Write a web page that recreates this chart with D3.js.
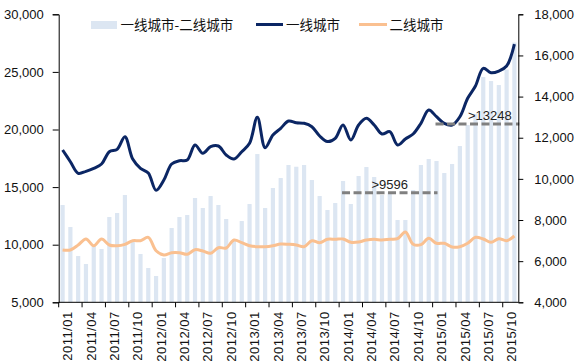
<!DOCTYPE html>
<html><head><meta charset="utf-8">
<script src="https://cdn.jsdelivr.net/npm/d3@7"></script>
<style>
html,body{margin:0;padding:0;background:#fff;}
svg{display:block;}
text{font-family:"Liberation Sans",Arial,sans-serif;}
.cjk{font-family:"Noto Sans CJK SC","Liberation Sans",sans-serif;}
</style></head>
<body>
<svg id="c" width="579" height="364"></svg>
<script>
const months = ["2011/01","2011/02","2011/03","2011/04","2011/05","2011/06","2011/07","2011/08","2011/09","2011/10","2011/11","2011/12",
"2012/01","2012/02","2012/03","2012/04","2012/05","2012/06","2012/07","2012/08","2012/09","2012/10","2012/11","2012/12",
"2013/01","2013/02","2013/03","2013/04","2013/05","2013/06","2013/07","2013/08","2013/09","2013/10","2013/11","2013/12",
"2014/01","2014/02","2014/03","2014/04","2014/05","2014/06","2014/07","2014/08","2014/09","2014/10","2014/11","2014/12",
"2015/01","2015/02","2015/03","2015/04","2015/05","2015/06","2015/07","2015/08","2015/09","2015/10","2015/11"];
// 一线城市-二线城市 (bars, right axis)
const diffValues = [8729,7660,6250,5861,6736,6590,8146,8340,9215,6979,6347,5667,5278,6153,7611,8146,8243,9069,8583,9166,8729,8048,7000,7951,8777,11207,8583,9555,10041,10673,10590,10673,9944,9166,8486,8826,9895,8777,10138,10576,10090,9215,9340,8000,8000,9458,10673,10964,10867,10284,10721,11596,12617,13151,14950,14755,14561,15314,16626];
// 一线城市 (left axis)
const tier1Values = [18220,17204,16197,16371,16631,17004,18072,18280,19374,17438,16631,16223,14722,15616,17004,17291,17352,18654,17933,18506,18567,17786,17438,18072,18801,21058,18419,19522,20103,20737,20589,20537,20242,19435,18957,19235,20390,19088,20390,20971,20390,19608,19808,18654,19174,19608,20537,21692,21110,20537,20390,21110,22707,23775,25311,24929,25077,25511,27420];
// 二线城市 (left axis)
const tier2Values = [9540,9540,9974,10494,9913,10494,9974,9913,10034,10347,10347,10642,9479,9106,9305,9305,9166,9566,9453,9253,9739,9713,10408,10173,9913,9826,9826,9913,10060,10034,9974,9826,10347,10173,10468,10468,10494,10208,10234,10408,10468,10408,10468,10520,11102,10034,10000,10555,10121,10121,9800,9826,10121,10642,10494,10208,10520,10347,10755];
const leftTicks = [5000,10000,15000,20000,25000,30000];
const rightTicks = [4000,6000,8000,10000,12000,14000,16000,18000];
const xTickLabels = ["2011/01","2011/04","2011/07","2011/10","2012/01","2012/04","2012/07","2012/10","2013/01","2013/04","2013/07","2013/10","2014/01","2014/04","2014/07","2014/10","2015/01","2015/04","2015/07","2015/10"];
const seriesNames = ["一线城市-二线城市","一线城市","二线城市"];
const annotations = [
  {from:"2014/01", to:"2015/01", value:9330, label:">9596"},
  {from:"2015/01", to:"2015/11", value:12670, label:">13248"}
];

const svg = d3.select("#c");
const L = 58.7, R = 518.3, T = 14.3, B = 302.3;
const x = d3.scaleBand().domain(months).range([L, R]).padding(0);
const yL = d3.scaleLinear().domain([5000,30000]).range([B, T]);
const yR = d3.scaleLinear().domain([4000,18000]).range([B, T]);
const bw = x.bandwidth();
const cx = m => x(m) + bw/2;

// bars
svg.append("g").selectAll("rect").data(months).join("rect")
  .attr("x", (m) => cx(m) - 2.1)
  .attr("width", 4.2)
  .attr("y", (m,i) => yR(diffValues[i]))
  .attr("height", (m,i) => B - yR(diffValues[i]))
  .attr("fill", "#dce6f2");

// lines
const lineL = d3.line().x((d,i) => cx(months[i])).y(d => yL(d)).curve(d3.curveCatmullRom.alpha(0.5));
svg.append("path").attr("d", lineL(tier2Values)).attr("fill","none")
  .attr("stroke","#fac090").attr("stroke-width",3).attr("stroke-linejoin","round");
svg.append("path").attr("d", lineL(tier1Values)).attr("fill","none")
  .attr("stroke","#0b2664").attr("stroke-width",3).attr("stroke-linejoin","round");

// annotations
annotations.forEach((a, k) => {
  const x1 = cx(a.from) - 1;
  const x2 = k === 1 ? R + 1 : cx(a.to) + 1;
  const yy = yR(a.value);
  svg.append("line").attr("x1", x1).attr("x2", x2).attr("y1", yy).attr("y2", yy)
    .attr("stroke", "#808080").attr("stroke-width", 3).attr("stroke-dasharray", "8,3.5");
  const tx = k === 1 ? 468 : (x1 + x2) / 2;
  svg.append("text").attr("x", tx).attr("y", yy - 4)
    .attr("text-anchor", k === 1 ? "start" : "middle")
    .attr("font-size", 13).attr("fill", "#222").text(a.label);
});

// axes
const fmt = d3.format(",");
const gL = svg.append("g").attr("transform", `translate(${L},0)`)
  .call(d3.axisLeft(yL).tickValues(leftTicks).tickFormat(fmt).tickSize(6).tickPadding(9));
const gR = svg.append("g").attr("transform", `translate(${R},0)`)
  .call(d3.axisRight(yR).tickValues(rightTicks).tickFormat(fmt).tickSize(5).tickPadding(11));
[gL, gR].forEach(g => {
  g.select(".domain").attr("stroke", "#000").attr("stroke-width", 1);
  g.selectAll(".tick line").attr("stroke", "#000");
  g.selectAll("text").attr("font-size", 13).attr("fill", "#111").attr("font-family", '"Liberation Sans",Arial,sans-serif');
});
// bottom axis
svg.append("line").attr("x1", L).attr("x2", R).attr("y1", B).attr("y2", B).attr("stroke", "#000");
const gx = svg.append("g");
xTickLabels.forEach(lab => {
  const xx = x(lab);
  gx.append("line").attr("x1", xx).attr("x2", xx).attr("y1", B).attr("y2", B + 5).attr("stroke", "#000");
  gx.append("text").attr("transform", `translate(${xx + 9},${B + 9}) rotate(-90)`)
    .attr("text-anchor", "end").attr("dy", "0.35em")
    .attr("font-size", 13).attr("letter-spacing", "0.5px").attr("fill", "#111").text(lab);
});

// legend
const lg = svg.append("g");
lg.append("rect").attr("x", 91).attr("y", 21).attr("width", 26).attr("height", 8).attr("fill", "#dce6f2");
lg.append("text").attr("class","cjk").attr("x", 120.5).attr("y", 25).attr("dy","0.36em").attr("font-size", 13.5).attr("fill","#111").text(seriesNames[0]);
lg.append("line").attr("x1", 256).attr("x2", 283).attr("y1", 24.5).attr("y2", 24.5).attr("stroke", "#0b2664").attr("stroke-width", 3);
lg.append("text").attr("class","cjk").attr("x", 286).attr("y", 25).attr("dy","0.36em").attr("font-size", 13.5).attr("fill","#111").text(seriesNames[1]);
lg.append("line").attr("x1", 359).attr("x2", 387).attr("y1", 24.5).attr("y2", 24.5).attr("stroke", "#fac090").attr("stroke-width", 3);
lg.append("text").attr("class","cjk").attr("x", 389.5).attr("y", 25).attr("dy","0.36em").attr("font-size", 13.5).attr("fill","#111").text(seriesNames[2]);
</script>
</body></html>
